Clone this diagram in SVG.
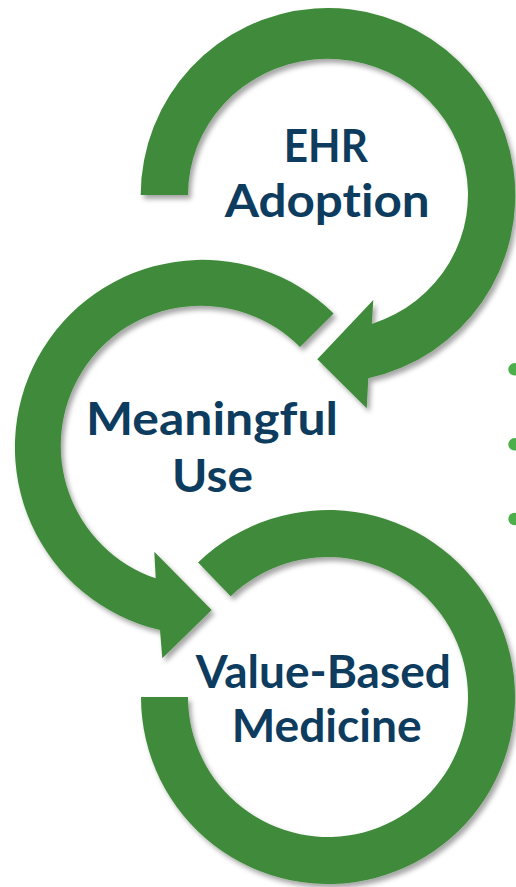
<svg xmlns="http://www.w3.org/2000/svg" width="516" height="887" viewBox="0 0 516 887">
  <defs>
    <filter id="shadow" x="-10%" y="-10%" width="125%" height="125%">
      <feDropShadow dx="3" dy="4" stdDeviation="2.5" flood-color="#000" flood-opacity="0.35"/>
    </filter>
    <style>
      .ring { fill: #3F8B3A; filter: url(#shadow); }
      .label { font-family: Lato, "Open Sans", "Liberation Sans", sans-serif; font-weight: 700; font-size: 45px; fill: #0D3C5E; text-anchor: middle; font-variant-ligatures: none; font-feature-settings: "liga" 0, "dlig" 0, "clig" 0; }
      .dot { fill: #4CAF4C; }
    </style>
  </defs>
  <rect width="516" height="887" fill="#ffffff"/>

  <g id="node-value-based-medicine">
    <path class="ring" d="M141,697 A187,187 0 1 0 198.1,562.5 L230.7,596.3 A140,140 0 1 1 188,697 Z"/>
    <text class="label" x="323.3" y="688.3" textLength="255" lengthAdjust="spacingAndGlyphs">Value-Based</text>
    <text class="label" x="326.7" y="741.7" textLength="190" lengthAdjust="spacingAndGlyphs">Medicine</text>
  </g>

  <g id="node-meaningful-use">
    <path class="ring" d="M333.6,313.4 A187.5,187.5 0 1 0 160,630 L162.3,658.3 L211.7,610 L154.3,551.7 L155.7,578.3 A140,140 0 1 1 300,347 Z"/>
    <text class="label" x="212" y="435" textLength="252" lengthAdjust="spacingAndGlyphs">Meaningful</text>
    <text class="label" x="212.5" y="491.7" textLength="81" lengthAdjust="spacingAndGlyphs">Use</text>
  </g>

  <g id="node-ehr-adoption">
    <path class="ring" d="M140.7,195 A187.3,187.3 0 1 1 368.3,378.3 L366.7,408.3 L317.3,359.3 L373.3,300 L371.8,324 A140,136 0 1 0 188,195 Z"/>
    <text class="label" x="325.8" y="161.7" textLength="84" lengthAdjust="spacingAndGlyphs">EHR</text>
    <text class="label" x="327.2" y="216.7" textLength="205" lengthAdjust="spacingAndGlyphs">Adoption</text>
  </g>

  <g id="connectors"></g>

  <g id="bullets">
    <circle class="dot" cx="514.5" cy="369.3" r="6.2"/>
    <circle class="dot" cx="514.5" cy="444.3" r="6.2"/>
    <circle class="dot" cx="514.5" cy="519" r="6.2"/>
  </g>
</svg>
